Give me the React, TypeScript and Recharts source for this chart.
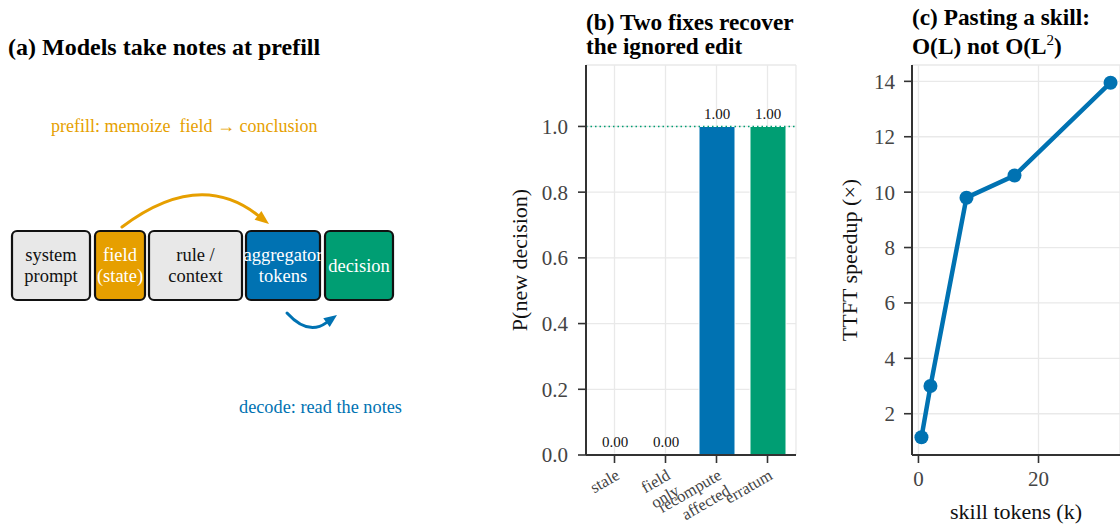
import React from 'react';
import {
  BarChart,
  Bar,
  XAxis,
  YAxis,
  CartesianGrid,
  ReferenceLine,
  LabelList,
  Cell,
  LineChart,
  Line,
  Label,
} from 'recharts';

const SERIF = '"Liberation Serif", "Times New Roman", Times, serif';
const BLUE = '#0072B2';
const GREEN = '#009E73';
const ORANGE = '#E69F00';
const SPINE = '#333333';
const TICK_TEXT = '#444444';
const GRID = '#E9E9E9';

// (a) token blocks of the prompt
const blockLabels = ['system\nprompt', 'field\n(state)', 'rule /\ncontext', 'aggregator\ntokens', 'decision'];
const blockFills = ['#E8E8E8', ORANGE, '#E8E8E8', BLUE, GREEN];
const blockInk = ['#111111', '#FFFFFF', '#111111', '#FFFFFF', '#FFFFFF'];

// (b) probability of producing the new decision
const fixCategories = ['stale', 'field\nonly', 'recompute\naffected', 'erratum'];
const pNewDecision = [0.0, 0.0, 1.0, 1.0];
const fixColors = ['#FFFFFF', '#FFFFFF', BLUE, GREEN];
const probTicks = [0, 0.2, 0.4, 0.6, 0.8, 1.0];

// (c) time-to-first-token speedup vs pasted skill length
const skillTokensK = [0.5, 2, 8, 16, 32];
const ttftSpeedup = [1.15, 3.0, 9.8, 10.6, 13.95];
const speedupTicks = [2, 4, 6, 8, 10, 12, 14];
const tokenTicks = [0, 20];

const fixData = fixCategories.map((name, i) => ({ name, p: pNewDecision[i] }));
const speedupData = skillTokensK.map((k, i) => ({ k, speedup: ttftSpeedup[i] }));

type Pt = [number, number];

function CurvedArrow({ from, ctrl, to, color, width, head, headW }: {
  from: Pt; ctrl: Pt; to: Pt; color: string; width: number; head: number; headW: number;
}) {
  const dx = to[0] - ctrl[0];
  const dy = to[1] - ctrl[1];
  const len = Math.hypot(dx, dy);
  const ux = dx / len;
  const uy = dy / len;
  const bx = to[0] - ux * head;
  const by = to[1] - uy * head;
  const px = -uy * headW / 2;
  const py = ux * headW / 2;
  return (
    <g>
      <path
        d={`M${from[0]},${from[1]} Q${ctrl[0]},${ctrl[1]} ${bx},${by}`}
        fill="none"
        stroke={color}
        strokeWidth={width}
        strokeLinecap="round"
      />
      <polygon points={`${to[0]},${to[1]} ${bx + px},${by + py} ${bx - px},${by - py}`} fill={color} />
    </g>
  );
}

function PromptDiagram() {
  // horizontal extent of each block along the prompt
  const spans: Pt[] = [[12, 90], [95, 145], [149, 242], [246, 320], [325, 393]];
  const top = 231;
  const bottom = 300;
  const mid = (top + bottom) / 2;
  const lineGap = 21;
  return (
    <g fontFamily={SERIF}>
      <text x={8} y={55} fontSize={24} fontWeight="bold" fill="#000">(a) Models take notes at prefill</text>
      <text x={51} y={132} fontSize={18} fill={ORANGE} style={{ whiteSpace: 'pre' }}>
        {'prefill: memoize  field \u2192 conclusion'}
      </text>
      <CurvedArrow from={[122, 227]} ctrl={[199, 169]} to={[269, 224]} color={ORANGE} width={3} head={14} headW={11} />
      {spans.map(([x0, x1], i) => {
        const lines = blockLabels[i].split('\n');
        const cx = (x0 + x1) / 2;
        return (
          <g key={i}>
            <rect x={x0} y={top} width={x1 - x0} height={bottom - top} rx={5} ry={5}
              fill={blockFills[i]} stroke="#111" strokeWidth={2.2} />
            <text x={cx} textAnchor="middle" fontSize={18.5} fill={blockInk[i]}>
              {lines.map((ln, j) => (
                <tspan key={j} x={cx} y={mid + 6 + (j - (lines.length - 1) / 2) * lineGap}>{ln}</tspan>
              ))}
            </text>
          </g>
        );
      })}
      <CurvedArrow from={[287, 313]} ctrl={[308, 336]} to={[337, 315]} color={BLUE} width={3} head={13} headW={11} />
      <text x={239} y={413} fontSize={18.3} fill={BLUE}>decode: read the notes</text>
    </g>
  );
}

function FixTick(props: any) {
  const { x, y, payload } = props;
  const lines = String(payload.value).split('\n');
  const fs = 16.5;
  const lead = 18;
  const asc = 12;
  return (
    <g transform={`translate(${x},${y + 3}) rotate(-30)`}>
      <text textAnchor="end" fontSize={fs} fontFamily={SERIF} fill={TICK_TEXT}>
        {lines.map((ln, i) => (
          <tspan key={i} x={0} y={asc + i * lead}>{ln}</tspan>
        ))}
      </text>
    </g>
  );
}

function verticalTitle(text: string, offsetX: number) {
  return (props: any) => {
    const vb = props.viewBox;
    const cx = vb.x + offsetX;
    const cy = vb.y + vb.height / 2;
    return (
      <text x={cx} y={cy} transform={`rotate(-90 ${cx} ${cy})`} textAnchor="middle" dy="0.35em"
        fontSize={22} fontFamily={SERIF} fill="#111">
        {text}
      </text>
    );
  };
}

function horizontalTitle(text: string, baselineFromTop: number) {
  return (props: any) => {
    const vb = props.viewBox;
    return (
      <text x={vb.x + vb.width / 2} y={vb.y + baselineFromTop} textAnchor="middle"
        fontSize={22} fontFamily={SERIF} fill="#111">
        {text}
      </text>
    );
  };
}

const tickStyle = { fontSize: 21, fontFamily: SERIF, fill: TICK_TEXT };

export default function App() {
  return (
    <div style={{ position: 'absolute', left: 0, top: 0, width: 1120, height: 527, background: '#fff', overflow: 'hidden' }}>
      <svg width={1120} height={527} style={{ position: 'absolute', left: 0, top: 0 }}>
        <PromptDiagram />
        <g fontFamily={SERIF} fontWeight="bold" fontSize={23.3} fill="#000">
          <text x={586} y={30}>(b) Two fixes recover</text>
          <text x={586} y={54}>the ignored edit</text>
          <text x={912} y={25}>(c) Pasting a skill:</text>
          <text x={912} y={54}>
            O(L) not O(L<tspan dy={-9} fontSize={15} fontWeight="normal">2</tspan><tspan dy={9}>)</tspan>
          </text>
        </g>
      </svg>

      <div style={{ position: 'absolute', left: 500, top: 0 }}>
        <BarChart width={320} height={527} data={fixData} margin={{ top: 65, right: 24, bottom: 0, left: 0 }}>
          <CartesianGrid stroke={GRID} strokeWidth={1.3} />
          <XAxis
            dataKey="name"
            height={72}
            interval={0}
            padding={{ left: 3, right: 3 }}
            tick={<FixTick />}
            tickSize={8}
            tickMargin={2}
            axisLine={{ stroke: SPINE, strokeWidth: 2 }}
            tickLine={{ stroke: SPINE, strokeWidth: 1.6 }}
          />
          <YAxis
            width={86}
            type="number"
            domain={[0, 1.187]}
            allowDataOverflow
            ticks={probTicks}
            tickFormatter={(v: number) => v.toFixed(1)}
            tick={tickStyle}
            tickSize={8}
            tickMargin={10}
            axisLine={{ stroke: SPINE, strokeWidth: 2 }}
            tickLine={{ stroke: SPINE, strokeWidth: 1.6 }}
          >
            <Label content={verticalTitle('P(new decision)', 19)} />
          </YAxis>
          <Bar dataKey="p" barSize={36} minPointSize={1} stroke="#fff" strokeWidth={1} isAnimationActive={false}>
            {fixData.map((d, i) => (
              <Cell key={d.name} fill={fixColors[i]} />
            ))}
            <LabelList
              dataKey="p"
              position="top"
              offset={7}
              formatter={(v: any) => Number(v).toFixed(2)}
              style={{ fontSize: 15, fontFamily: SERIF, fill: '#111' }}
            />
          </Bar>
          <ReferenceLine y={1} stroke={GREEN} strokeWidth={1.5} strokeDasharray="1.5 3" />
        </BarChart>
      </div>

      <div style={{ position: 'absolute', left: 820, top: 0 }}>
        <LineChart width={300} height={527} data={speedupData} margin={{ top: 65, right: 0, bottom: 0, left: 0 }}>
          <CartesianGrid stroke={GRID} strokeWidth={1.3} />
          <XAxis
            dataKey="k"
            type="number"
            domain={[-1.075, 33.575]}
            allowDataOverflow
            ticks={tokenTicks}
            height={72}
            tick={tickStyle}
            tickSize={8}
            tickMargin={8}
            axisLine={{ stroke: SPINE, strokeWidth: 2 }}
            tickLine={{ stroke: SPINE, strokeWidth: 1.6 }}
          >
            <Label content={horizontalTitle('skill tokens (k)', 64)} />
          </XAxis>
          <YAxis
            width={92}
            type="number"
            domain={[0.51, 14.59]}
            allowDataOverflow
            ticks={speedupTicks}
            tick={tickStyle}
            tickSize={8}
            tickMargin={9}
            axisLine={{ stroke: SPINE, strokeWidth: 2 }}
            tickLine={{ stroke: SPINE, strokeWidth: 1.6 }}
          >
            <Label content={verticalTitle('TTFT speedup (\u00d7)', 29)} />
          </YAxis>
          <Line
            type="linear"
            dataKey="speedup"
            stroke={BLUE}
            strokeWidth={4.5}
            dot={{ r: 7, fill: BLUE, stroke: BLUE, strokeWidth: 0 }}
            isAnimationActive={false}
          />
        </LineChart>
      </div>
    </div>
  );
}
